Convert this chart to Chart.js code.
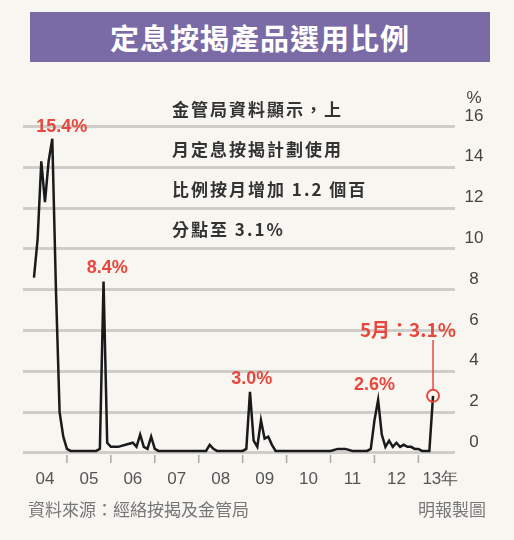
<!DOCTYPE html>
<html><head><meta charset="utf-8">
<script src="https://cdn.jsdelivr.net/npm/chart.js@4"></script>
<style>
body{margin:0;background:#fff;font-family:"Noto Sans CJK TC",sans-serif}
#wrap{position:relative;width:514px;height:540px;background:#f8f6f1}
#title{position:absolute;left:30px;top:12px;width:460px;height:50px;background:#7a6aa6;color:#fff;font-size:29px;font-weight:bold;text-align:center;line-height:50px;letter-spacing:1px}
.note{position:absolute;left:172px;color:#333;font-size:17px;font-weight:bold;letter-spacing:2px}
.foot{position:absolute;top:496px;color:#777;font-size:17px}
canvas{position:absolute;left:0;top:0}
</style></head><body>
<div id="wrap">
<canvas id="c" width="514" height="540"></canvas>
<div id="title">定息按揭產品選用比例</div>
<div class="note" style="top:96px">金管局資料顯示，上</div>
<div class="note" style="top:136px">月定息按揭計劃使用</div>
<div class="note" style="top:176px">比例按月增加 1.2 個百</div>
<div class="note" style="top:216px">分點至 3.1%</div>
<div class="foot" style="left:28px">資料來源：經絡按揭及金管局</div>
<div class="foot" style="left:418px">明報製圖</div>
</div>
<script>
// month index: 0 = Jan 2004
const months = [3,4,5,6,7,8,9,10,11,12,13,16,19,20,21,22,23,24,26,28,30,31,32,33,34,35,36,37,38,39,40,42,45,48,50,51,52,53,55,58,59,60,61,62,63,64,65,66,67,68,69,70,72,76,80,84,86,88,90,93,94,95,96,97,98,99,100,101,102,103,104,105,106,107,108,109,110,111,112];
const values = [8.6,10.5,14.3,12.3,14.3,15.4,8.0,2.0,0.8,0.2,0.1,0.1,0.1,0.1,0.2,8.4,0.5,0.3,0.3,0.4,0.5,0.3,0.9,0.3,0.2,0.8,0.2,0.1,0.1,0.1,0.1,0.1,0.1,0.1,0.1,0.4,0.2,0.1,0.1,0.1,0.1,0.1,0.2,3.0,0.6,0.3,1.6,0.7,0.8,0.4,0.1,0.1,0.1,0.1,0.1,0.1,0.2,0.2,0.1,0.1,0.1,0.2,1.6,2.6,0.9,0.3,0.6,0.3,0.5,0.3,0.4,0.3,0.3,0.2,0.2,0.1,0.1,0.1,2.8];
const yTicks = [0,2,4,6,8,10,12,14,16];
const yearLabels = ['04','05','06','07','08','09','10','11','12','13年'];
const peakLabels = [
  {m:10.6, v:15.4, text:'15.4%', dy:-7},
  {m:23, v:8.4, text:'8.4%', dy:-9},
  {m:62.5, v:3.0, text:'3.0%', dy:-8},
  {m:96, v:2.6, text:'2.6%', dy:-10}
];

const red = '#e9473d';
const overlay = {
  id:'overlay',
  afterDraw(chart){
    const ctx = chart.ctx, x = chart.scales.x, y = chart.scales.y;
    ctx.save();
    // y tick labels above the grid lines
    ctx.fillStyle = '#444'; ctx.font = '17px "Liberation Sans"'; ctx.textAlign = 'center'; ctx.textBaseline = 'alphabetic';
    yTicks.forEach(v => ctx.fillText(String(v), 474, y.getPixelForValue(v) - 6));
    ctx.fillText('%', 474, 103);
    // year boundary ticks
    ctx.strokeStyle = '#aaa'; ctx.lineWidth = 1.5;
    for (let i = 1; i < 10; i++) {
      const px = x.getPixelForValue(i * 12);
      ctx.beginPath(); ctx.moveTo(px, y.bottom); ctx.lineTo(px, y.bottom + 8); ctx.stroke();
    }
    // peak labels
    ctx.fillStyle = red; ctx.font = 'bold 18px "Liberation Sans"';
    peakLabels.forEach(p => ctx.fillText(p.text, x.getPixelForValue(p.m), y.getPixelForValue(p.v) + p.dy));
    // last point marker
    const lm = months[months.length - 1], lv = values[values.length - 1];
    const px = x.getPixelForValue(lm), py = y.getPixelForValue(lv);
    ctx.strokeStyle = red; ctx.lineWidth = 2;
    ctx.beginPath(); ctx.arc(px, py, 6, 0, Math.PI * 2); ctx.stroke();
    ctx.lineWidth = 1.5;
    ctx.beginPath(); ctx.moveTo(px, py - 6); ctx.lineTo(px, 340); ctx.stroke();
    ctx.font = 'bold 19px "Noto Sans CJK TC"'; ctx.textAlign = 'right';
    ctx.fillText('5月：3.1%', 456, 337);
    ctx.restore();
  }
};

new Chart(document.getElementById('c'), {
  type:'line',
  data:{ datasets:[{ data: months.map((m,i)=>({x:m, y:values[i]})), borderColor:'#1a1a1a', borderWidth:2.5, pointRadius:0, tension:0 }] },
  options:{
    responsive:false, animation:false,
    layout:{ padding:{ left:23, top:98, right:0, bottom:0 } },
    plugins:{ legend:{display:false}, tooltip:{enabled:false} },
    scales:{
      x:{ type:'linear', min:0, max:118,
        afterBuildTicks(s){ s.ticks = yearLabels.map((_,i)=>({value:i*12+6})); },
        afterFit(s){ s.height = 85; },
        grid:{display:false}, border:{display:false},
        ticks:{ autoSkip:false, maxRotation:0, padding:6, color:'#555', font:{size:17, family:'"Liberation Sans"'},
          callback:(v)=>yearLabels[Math.round((v-6)/12)] } },
      y:{ position:'right', min:-0.1, max:17.4,
        afterBuildTicks(s){ s.ticks = yTicks.map(v=>({value:v})); },
        afterFit(s){ s.width = 59; },
        grid:{ color:'#cfcdc8', lineWidth:3, drawTicks:false }, border:{display:false},
        ticks:{ display:false } }
    }
  },
  plugins:[overlay]
});
</script>
</body></html>
